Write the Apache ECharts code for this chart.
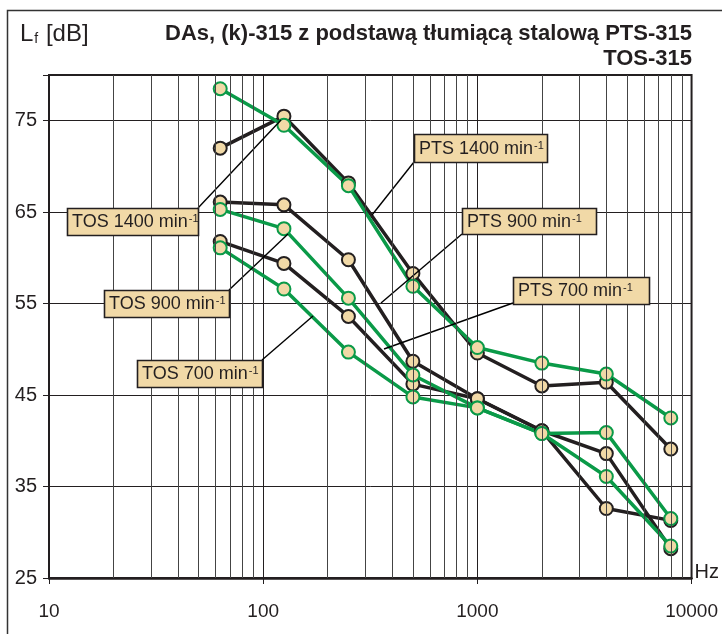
<!DOCTYPE html>
<html>
<head>
<meta charset="utf-8">
<script src="https://cdn.jsdelivr.net/npm/echarts@6.0.0/dist/echarts.min.js"></script>
<style>
  html, body { margin: 0; padding: 0; background: #fff; }
  #chart { width: 722px; height: 634px; }
</style>
</head>
<body>
<div id="chart"></div>
<script>
const freqs = [63, 125, 250, 500, 1000, 2000, 4000, 8000];
const pts1400 = [72.0, 75.5, 68.2, 58.3, 49.6, 46.0, 46.4, 39.1];
const tos1400 = [78.5, 74.5, 67.9, 56.9, 50.2, 48.5, 47.3, 42.5];
const pts900 = [66.1, 65.8, 59.8, 48.7, 44.6, 41.1, 38.6, 28.2];
const tos900 = [65.3, 63.2, 55.6, 47.2, 43.6, 40.8, 40.9, 31.5];
const pts700 = [61.8, 59.4, 53.6, 46.2, 44.6, 41.1, 32.6, 31.3];
const tos700 = [61.1, 56.6, 49.7, 44.8, 43.6, 40.8, 36.1, 28.5];
const minorGrid = [20, 30, 40, 50, 60, 70, 80, 90, 200, 300, 400, 500, 600, 700, 800, 900,
  2000, 3000, 4000, 5000, 6000, 7000, 8000, 9000];

const FONT = "'Liberation Sans', Arial, sans-serif";
const BLACK = "#231f20";
const GREEN = "#0a9a48";
const FILL = "#f1d9a7";

const chart = echarts.init(document.getElementById("chart"));

function curve(name, values, color) {
  return {
    name: name,
    type: "line",
    data: freqs.map((f, i) => [f, values[i]]),
    symbol: "circle",
    symbolSize: 13,
    lineStyle: { color: color, width: 3.5 },
    itemStyle: { color: FILL, borderColor: color, borderWidth: 2 },
    emphasis: { disabled: true },
    animation: false,
  };
}

// label boxes with leader lines
const boxes = [
  { text: "TOS 1400 min", x: 67, y: 208, w: 131, h: 27, from: [198, 208], to: [281, 120] },
  { text: "TOS 900 min", x: 104, y: 290, w: 125, h: 27, from: [229, 290], to: [288, 234] },
  { text: "TOS 700 min", x: 137, y: 360, w: 125, h: 27, from: [262, 360], to: [313, 316] },
  { text: "PTS 1400 min", x: 414, y: 134, w: 133, h: 28, from: [414, 162], to: [372, 215] },
  { text: "PTS 900 min", x: 462, y: 208, w: 134, h: 26, from: [462, 234], to: [381, 303] },
  { text: "PTS 700 min", x: 513, y: 277, w: 136, h: 27, from: [513, 303], to: [384, 349] },
];

const graphics = [
  {
    type: "rect",
    shape: { x: 7.5, y: 10.5, width: 800, height: 700 },
    style: { fill: "none", stroke: "#333", lineWidth: 1.5 },
    silent: true,
  },
  {
    type: "text",
    x: 692, y: 45,
    style: {
      text: "DAs, (k)-315 z podstawą tłumiącą stalową PTS-315",
      font: "bold 22px " + FONT, fill: BLACK,
      textAlign: "right", textVerticalAlign: "bottom",
    },
  },
  {
    type: "text",
    x: 692, y: 70,
    style: {
      text: "TOS-315",
      font: "bold 22px " + FONT, fill: BLACK,
      textAlign: "right", textVerticalAlign: "bottom",
    },
  },
  {
    type: "text",
    x: 20, y: 34,
    style: {
      text: "{a|L}{b|f}{a| [dB]}",
      textVerticalAlign: "middle",
      rich: {
        a: { fontSize: 24, fontFamily: FONT, fill: BLACK },
        b: { fontSize: 14, fontFamily: FONT, fill: BLACK, verticalAlign: "bottom", padding: [0, 1, 0, 1] },
      },
    },
  },
];

boxes.forEach((b) => {
  graphics.push({
    type: "line",
    shape: { x1: b.from[0], y1: b.from[1], x2: b.to[0], y2: b.to[1] },
    style: { stroke: "#000", lineWidth: 1.4 },
    silent: true,
    z: 5,
  });
  graphics.push({
    type: "rect",
    shape: { x: b.x + 0.5, y: b.y + 0.5, width: b.w, height: b.h },
    style: { fill: FILL, stroke: BLACK, lineWidth: 1.6 },
    silent: true,
    z: 6,
  });
  graphics.push({
    type: "text",
    x: b.x + 5, y: b.y + b.h / 2 + 1,
    style: {
      text: "{m|" + b.text + "}{s|-1}",
      textVerticalAlign: "middle",
      rich: {
        m: { fontSize: 18, fontFamily: FONT, fill: BLACK },
        s: { fontSize: 11, fontFamily: FONT, fill: BLACK, verticalAlign: "top", padding: [0, 0, 0, 1] },
      },
    },
    silent: true,
    z: 7,
  });
});

chart.setOption({
  animation: false,
  grid: {
    left: 49, right: 30, top: 75, bottom: 56,
    show: true, borderColor: BLACK, borderWidth: 2, backgroundColor: "transparent",
  },
  xAxis: {
    type: "log",
    logBase: 10,
    min: 10,
    max: 10000,
    name: "Hz",
    nameLocation: "end",
    nameGap: 3,
    nameTextStyle: { fontSize: 20, fontFamily: FONT, color: BLACK, align: "left", verticalAlign: "bottom", padding: [0, 0, -4, 0] },
    axisLine: { show: true, lineStyle: { color: BLACK, width: 2.5 } },
    axisTick: { show: true, length: 6, lineStyle: { color: BLACK, width: 1 } },
    axisLabel: {
      fontSize: 19, fontFamily: FONT, color: BLACK, margin: 24,
      formatter: (v) => String(Math.round(v)),
    },
    splitLine: { show: true, lineStyle: { color: BLACK, width: 1 } },
    minorTick: { show: false },
  },
  yAxis: {
    type: "value",
    min: 25,
    max: 80,
    interval: 10,
    axisLine: { show: true, lineStyle: { color: BLACK, width: 1.5 } },
    axisTick: { show: true, length: 6, lineStyle: { color: BLACK, width: 1 } },
    axisLabel: {
      fontSize: 20, fontFamily: FONT, color: BLACK, margin: 12,
      formatter: (v) => (v === 80 ? "" : String(v)),
    },
    splitLine: { show: true, lineStyle: { color: BLACK, width: 1 } },
  },
  series: [
    {
      type: "line",
      data: [],
      silent: true,
      z: 1,
      markLine: {
        silent: true,
        symbol: "none",
        animation: false,
        label: { show: false },
        emphasis: { disabled: true },
        lineStyle: { color: "#444", width: 1, type: "solid" },
        data: minorGrid.map((f) => ({ xAxis: f })),
      },
    },
    curve("PTS 1400", pts1400, BLACK),
    curve("PTS 900", pts900, BLACK),
    curve("PTS 700", pts700, BLACK),
    curve("TOS 1400", tos1400, GREEN),
    curve("TOS 900", tos900, GREEN),
    curve("TOS 700", tos700, GREEN),
  ],
  graphic: graphics,
});
</script>
</body>
</html>
